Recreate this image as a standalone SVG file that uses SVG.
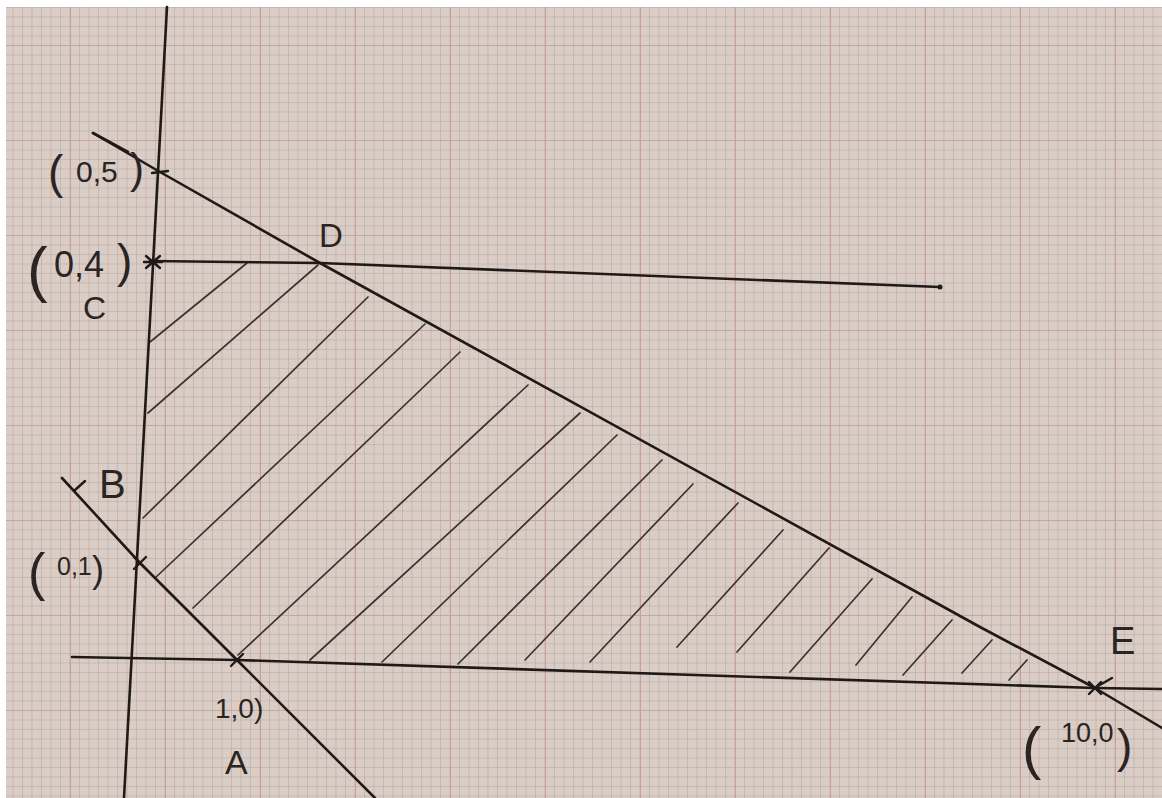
<svg xmlns="http://www.w3.org/2000/svg" width="1162" height="798" viewBox="0 0 1162 798">
  <defs>
    <pattern id="minor" x="3" y="7" width="9.5" height="9.5" patternUnits="userSpaceOnUse">
      <path d="M0 0 H9.5 M0 0 V9.5" fill="none" stroke="#b3a49c" stroke-width="1"/>
    </pattern>
    <pattern id="major" x="70" y="45" width="95" height="95" patternUnits="userSpaceOnUse">
      <path d="M0 0 V95" fill="none" stroke="#c9968b" stroke-width="1.6"/>
      <path d="M0 0 H95" fill="none" stroke="#c9a097" stroke-width="1.3"/>
    </pattern>
    <style>
      .ink { fill: none; stroke: #1f1a18; stroke-width: 2.6; stroke-linecap: round; stroke-linejoin: round; }
      .hatch { fill: none; stroke: #3b3330; stroke-width: 1.7; stroke-linecap: round; }
      .mark { fill: none; stroke: #1f1a18; stroke-width: 2.4; stroke-linecap: round; }
      .hand { font-family: "Liberation Sans", sans-serif; fill: #2a2422; }
    </style>
  </defs>

  <rect x="0" y="0" width="1162" height="798" fill="#ffffff"/>
  <g id="paper">
    <rect x="6" y="7" width="1156" height="791" fill="#dacdc5"/>
    <rect x="6" y="7" width="1156" height="791" fill="url(#minor)"/>
    <rect x="6" y="7" width="1156" height="791" fill="url(#major)"/>
  </g>

  <g id="hatching">
    <line class="hatch" x1="247" y1="263" x2="150" y2="342"/>
    <line class="hatch" x1="318" y1="265" x2="148" y2="413"/>
    <line class="hatch" x1="368" y1="297" x2="143" y2="518"/>
    <line class="hatch" x1="425" y1="324" x2="155" y2="578"/>
    <line class="hatch" x1="460" y1="352" x2="193" y2="608"/>
    <line class="hatch" x1="528" y1="385" x2="238" y2="655"/>
    <line class="hatch" x1="580" y1="413" x2="310" y2="660"/>
    <line class="hatch" x1="617" y1="435" x2="382" y2="662"/>
    <line class="hatch" x1="662" y1="460" x2="458" y2="664"/>
    <line class="hatch" x1="693" y1="484" x2="525" y2="660"/>
    <line class="hatch" x1="738" y1="503" x2="590" y2="662"/>
    <line class="hatch" x1="783" y1="530" x2="677" y2="647"/>
    <line class="hatch" x1="829" y1="548" x2="737" y2="652"/>
    <line class="hatch" x1="872" y1="579" x2="790" y2="672"/>
    <line class="hatch" x1="912" y1="597" x2="856" y2="665"/>
    <line class="hatch" x1="952" y1="620" x2="903" y2="675"/>
    <line class="hatch" x1="992" y1="640" x2="962" y2="673"/>
    <line class="hatch" x1="1027" y1="660" x2="1009" y2="680"/>
  </g>

  <g id="connectors">
    <line id="y-axis" class="ink" x1="167" y1="7" x2="124" y2="798"/>
    <polyline id="x-axis" class="ink" points="72,657 237,660 1095,688 1162,689"/>
    <polyline id="line-5-10" class="ink" points="93,133 160,172 320,263 980,627 1095,688 1162,728"/>
    <polyline id="line-y4" class="ink" points="150,261 320,263 940,287"/>
    <polyline id="line-AB" class="ink" points="62,478 140,563 237,660 375,798"/>
    <line class="ink" x1="93" y1="133" x2="128" y2="152" stroke-width="4.5"/>
    <circle cx="940" cy="287" r="2.5" fill="#1f1a18"/>
  </g>

  <g id="point-05">
    <line class="mark" x1="152" y1="173" x2="168" y2="171"/>
    <text class="hand" x="48" y="188" font-size="46">(</text>
    <text class="hand" x="76" y="182" font-size="30">0,5</text>
    <text class="hand" x="130" y="183" font-size="42">)</text>
  </g>
  <g id="point-C">
    <path class="mark" d="M146 256 L160 268 M146 268 L160 256 M144 262 H162"/>
    <text class="hand" x="27" y="290" font-size="62">(</text>
    <text class="hand" x="54" y="277" font-size="36">0,4</text>
    <text class="hand" x="117" y="277" font-size="46">)</text>
    <text class="hand" x="83" y="319" font-size="32">C</text>
  </g>
  <g id="point-D">
    <text class="hand" x="319" y="247" font-size="33">D</text>
  </g>
  <g id="point-B">
    <line class="mark" x1="75" y1="490" x2="85" y2="481"/>
    <path class="mark" d="M134 557 L146 569 M134 569 L146 557"/>
    <text class="hand" x="99" y="498" font-size="40">B</text>
    <text class="hand" x="28" y="590" font-size="52">(</text>
    <text class="hand" x="57" y="575" font-size="25">0,1</text>
    <text class="hand" x="92" y="582" font-size="36">)</text>
  </g>
  <g id="point-A">
    <path class="mark" d="M231 654 L243 666 M231 666 L243 654"/>
    <text class="hand" x="215" y="718" font-size="28">1,0)</text>
    <text class="hand" x="225" y="774" font-size="34">A</text>
  </g>
  <g id="point-E">
    <path class="mark" d="M1089 682 L1101 694 M1089 694 L1101 682 M1098 686 L1112 678"/>
    <text class="hand" x="1110" y="654" font-size="38">E</text>
    <text class="hand" x="1022" y="768" font-size="58">(</text>
    <text class="hand" x="1061" y="742" font-size="27">10,0</text>
    <text class="hand" x="1117" y="762" font-size="46">)</text>
  </g>
</svg>
